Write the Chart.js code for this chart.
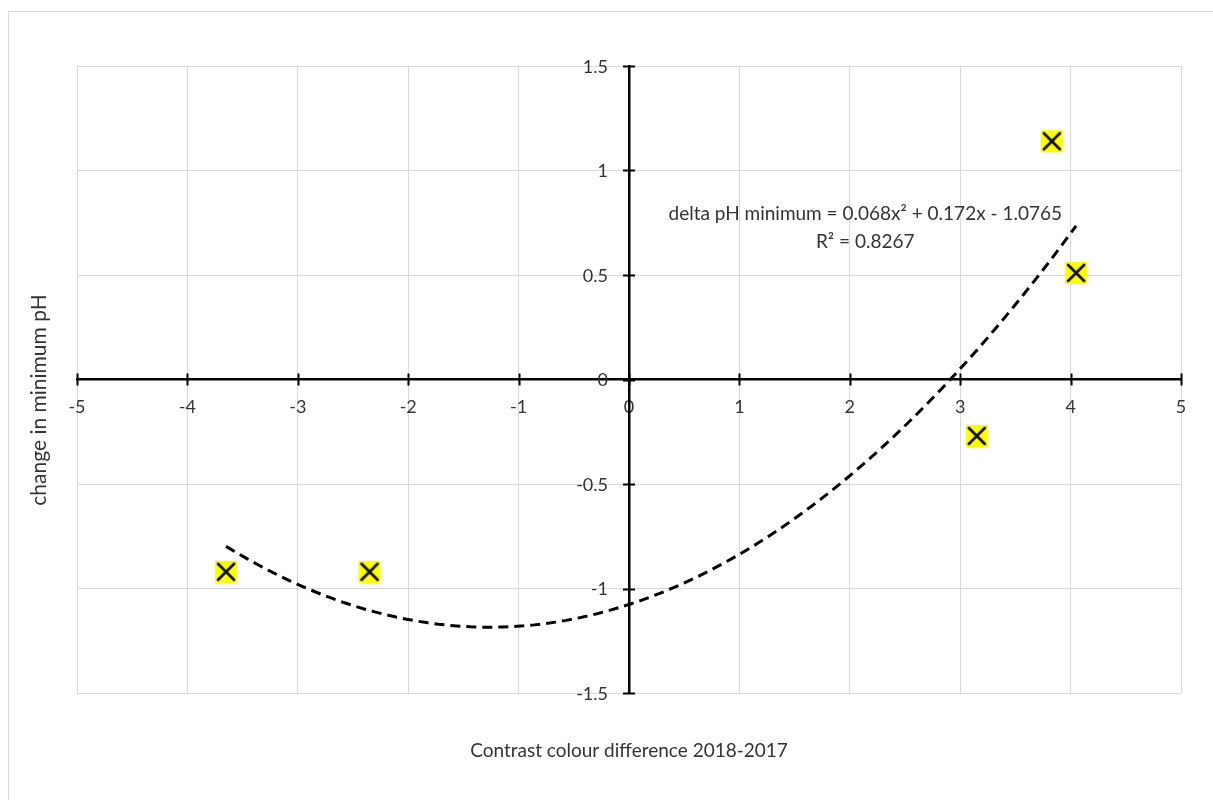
<!DOCTYPE html>
<html>
<head>
<meta charset="utf-8">
<script src="https://cdn.jsdelivr.net/npm/chart.js@4.4.1/dist/chart.umd.min.js"></script>
<style>
  html, body { margin: 0; padding: 0; background: #ffffff; }
  #wrap { position: relative; width: 1213px; height: 800px; overflow: hidden; }
  #frame { position: absolute; left: 8px; top: 11px; right: -4px; bottom: -4px;
           border-top: 1px solid #d9d9d9; border-left: 1px solid #d9d9d9; }
  #chart { position: absolute; left: 0; top: 0; }
</style>
</head>
<body>
<div id="wrap">
  <div id="frame"></div>
  <canvas id="chart" width="1213" height="800"></canvas>
</div>
<script>
// Observations: contrast colour difference (x) vs change in minimum pH (y)
const contrastDiff = [-3.65, -2.35, 3.15, 3.83, 4.05];
const phChange = [-0.92, -0.92, -0.27, 1.14, 0.51];

// Polynomial trendline coefficients (a x^2 + b x + c) and its fit quality
const trendCoef = [0.068, 0.172, -1.0765];
const trendR2 = 0.8267;

// Axis ticks
const xTickValues = [-5, -4, -3, -2, -1, 0, 1, 2, 3, 4, 5];
const xTickLabels = ['-5', '-4', '-3', '-2', '-1', '0', '1', '2', '3', '4', '5'];
const yTickValues = [-1.5, -1, -0.5, 0, 0.5, 1, 1.5];
const yTickLabels = ['-1.5', '-1', '-0.5', '0', '0.5', '1', '1.5'];

const xTitle = 'Contrast colour difference 2018-2017';
const yTitle = 'change in minimum pH';
const eqLine = 'delta pH minimum = ' + trendCoef[0] + 'x\u00B2 + ' + trendCoef[1] + 'x - ' + Math.abs(trendCoef[2]);
const r2Line = 'R\u00B2 = ' + trendR2;

const FONT = 'Lato, "Open Sans", sans-serif';
const TEXT = '#333333';
const TICK_SIZE = 18;

// Trendline evaluated across the observed x range
function trendAt(x) { return trendCoef[0] * x * x + trendCoef[1] * x + trendCoef[2]; }
const tMin = Math.min(...contrastDiff), tMax = Math.max(...contrastDiff);
const trendPts = [];
for (let i = 0; i <= 80; i++) {
  const x = tMin + (tMax - tMin) * i / 80;
  trendPts.push({ x: x, y: trendAt(x) });
}

// Marker: yellow square with a black cross
function makeMarker() {
  const s = 24, c = document.createElement('canvas');
  c.width = s; c.height = s;
  const g = c.getContext('2d');
  g.fillStyle = '#ffff00';
  g.fillRect(1, 1, s - 2, s - 2);
  g.strokeStyle = '#111111';
  g.lineWidth = 2.8;
  g.lineCap = 'round';
  g.beginPath();
  g.moveTo(4, 4); g.lineTo(s - 4, s - 4);
  g.moveTo(s - 4, 4); g.lineTo(4, s - 4);
  g.stroke();
  return c;
}
const marker = makeMarker();

// Cross tick marks on both zero axes, y tick labels, axis titles and trendline label
const decorations = {
  id: 'decorations',
  beforeDatasetsDraw(chart) {
    const ctx = chart.ctx, xs = chart.scales.x, ys = chart.scales.y;
    const x0 = xs.getPixelForValue(0), y0 = ys.getPixelForValue(0);
    ctx.save();
    ctx.strokeStyle = '#000000';
    ctx.lineWidth = 2;
    ctx.beginPath();
    xTickValues.forEach(v => {
      const px = Math.round(xs.getPixelForValue(v)) + 0.5;
      ctx.moveTo(px, y0 - 6); ctx.lineTo(px, y0 + 6);
    });
    yTickValues.forEach(v => {
      const py = Math.round(ys.getPixelForValue(v)) + 0.5;
      ctx.moveTo(x0 - 6, py); ctx.lineTo(x0 + 6, py);
    });
    ctx.stroke();

    ctx.fillStyle = TEXT;
    ctx.font = TICK_SIZE + 'px ' + FONT;
    ctx.textAlign = 'right';
    ctx.textBaseline = 'middle';
    yTickValues.forEach((v, i) => {
      ctx.fillText(yTickLabels[i], x0 - 21, ys.getPixelForValue(v) + 1);
    });
    ctx.restore();
  },
  afterDraw(chart) {
    const ctx = chart.ctx, xs = chart.scales.x, ys = chart.scales.y;
    const area = chart.chartArea;
    ctx.save();
    ctx.fillStyle = TEXT;
    ctx.textAlign = 'center';
    ctx.textBaseline = 'middle';
    ctx.font = '19px ' + FONT;
    ctx.fillText(xTitle, (area.left + area.right) / 2, 751);
    ctx.save();
    ctx.translate(39, 400);
    ctx.rotate(-Math.PI / 2);
    ctx.font = '21px ' + FONT;
    ctx.fillText(yTitle, 0, 0);
    ctx.restore();
    ctx.font = '19px ' + FONT;
    const lx = xs.getPixelForValue(2.14);
    ctx.fillText(eqLine, lx, ys.getPixelForValue(0.794));
    ctx.fillText(r2Line, lx, ys.getPixelForValue(0.66));
    ctx.restore();
  }
};

new Chart(document.getElementById('chart'), {
  type: 'scatter',
  data: {
    datasets: [
      {
        label: 'observations',
        data: contrastDiff.map((x, i) => ({ x: x, y: phChange[i] })),
        pointStyle: marker,
        pointRadius: 12,
        pointHoverRadius: 12,
        showLine: false,
        order: 0
      },
      {
        label: 'trend',
        data: trendPts,
        showLine: true,
        borderColor: '#000000',
        borderWidth: 3,
        borderDash: [10, 6],
        pointRadius: 0,
        pointHoverRadius: 0,
        tension: 0,
        fill: false,
        order: 1
      }
    ]
  },
  options: {
    responsive: false,
    animation: false,
    events: [],
    layout: { padding: { left: 77, right: 32, top: 66, bottom: 107 } },
    plugins: { legend: { display: false }, tooltip: { enabled: false } },
    scales: {
      x: {
        type: 'linear',
        position: { y: 0 },
        min: xTickValues[0],
        max: xTickValues[xTickValues.length - 1],
        afterBuildTicks(scale) { scale.ticks = xTickValues.map(v => ({ value: v })); },
        ticks: {
          callback: (v) => xTickLabels[xTickValues.indexOf(v)],
          color: TEXT,
          font: { family: FONT, size: TICK_SIZE },
          padding: 17,
          maxRotation: 0,
          autoSkip: false
        },
        grid: { color: '#d9d9d9', lineWidth: 1, drawTicks: false },
        border: { display: true, color: '#000000', width: 2.5 }
      },
      y: {
        type: 'linear',
        position: { x: 0 },
        min: yTickValues[0],
        max: yTickValues[yTickValues.length - 1],
        afterBuildTicks(scale) { scale.ticks = yTickValues.map(v => ({ value: v })); },
        ticks: { display: false },
        grid: { color: '#d9d9d9', lineWidth: 1, drawTicks: false },
        border: { display: true, color: '#000000', width: 2.5 }
      }
    }
  },
  plugins: [decorations]
});
</script>
</body>
</html>
